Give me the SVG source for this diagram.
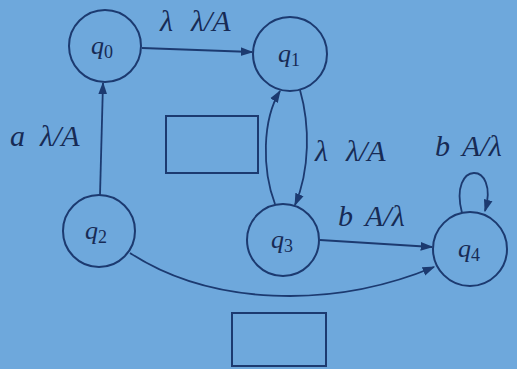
<svg xmlns="http://www.w3.org/2000/svg" width="517" height="369" viewBox="0 0 517 369">
<style>
.n{fill:none;stroke:#1c3a70;stroke-width:2}
.e{fill:none;stroke:#1c3a70;stroke-width:1.8}
.q{font-family:"Liberation Serif",serif;font-style:italic;font-size:26px;fill:#172b55}
.s{font-family:"Liberation Serif",serif;font-size:18px;fill:#172b55;font-style:normal}
.l{font-family:"Liberation Serif",serif;font-style:italic;font-size:30px;fill:#172b55}
</style>
<defs>
<marker id="a" viewBox="0 0 10 10" refX="9" refY="5" markerWidth="7" markerHeight="7" orient="auto"><path d="M0,1.5 L10,5 L0,8.5 z" fill="#1c3a70"/></marker>
</defs>
<rect width="517" height="369" fill="#6ea8dc"/>
<g id="connectors">
<path class="e" d="M142,48 L252,52" marker-end="url(#a)"/>
<path class="e" d="M100,195 L103,83" marker-end="url(#a)"/>
<path class="e" d="M275,204 C262,170 262,120 280,91" marker-end="url(#a)"/>
<path class="e" d="M300,90 C310,125 310,170 295,205" marker-end="url(#a)"/>
<path class="e" d="M320,240 L432,247" marker-end="url(#a)"/>
<path class="e" d="M130,253 C210,305 330,310 434,267" marker-end="url(#a)"/>
<path class="e" d="M462,213 C448,160 500,160 485,211" marker-end="url(#a)"/>
</g>
<g id="q0"><circle class="n" cx="105" cy="46" r="36"/><text class="q" x="91" y="54">q<tspan class="s" dy="4">0</tspan></text></g>
<g id="q1"><circle class="n" cx="290" cy="54" r="37"/><text class="q" x="278" y="62">q<tspan class="s" dy="4">1</tspan></text></g>
<g id="q2"><circle class="n" cx="99" cy="231" r="36"/><text class="q" x="85" y="239">q<tspan class="s" dy="4">2</tspan></text></g>
<g id="q3"><circle class="n" cx="283" cy="240" r="36"/><text class="q" x="271" y="248">q<tspan class="s" dy="4">3</tspan></text></g>
<g id="q4"><circle class="n" cx="470" cy="249" r="37"/><text class="q" x="458" y="257">q<tspan class="s" dy="4">4</tspan></text></g>
<g id="labels">
<text class="l" y="31"><tspan x="160">λ</tspan> <tspan x="191">λ/A</tspan></text>
<text class="l" y="146"><tspan x="10">a</tspan> <tspan x="40">λ/A</tspan></text>
<text class="l" y="161"><tspan x="315">λ</tspan> <tspan x="346">λ/A</tspan></text>
<text class="l" y="156"><tspan x="435">b</tspan> <tspan x="462">A/λ</tspan></text>
<text class="l" y="226"><tspan x="338">b</tspan> <tspan x="365">A/λ</tspan></text>
</g>
<g id="boxes">
<rect class="n" x="166" y="116" width="92" height="57"/>
<rect class="n" x="232" y="313" width="94" height="53"/>
</g>
</svg>
